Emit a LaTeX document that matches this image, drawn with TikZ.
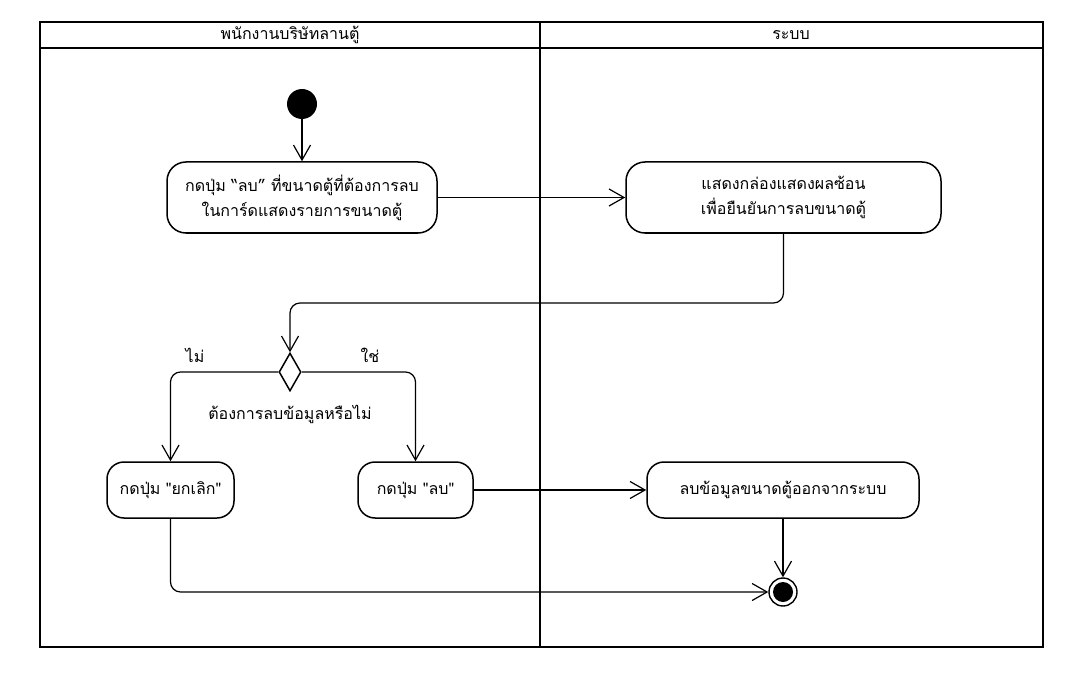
\documentclass[tikz,border=0pt]{standalone}
\usepackage{fontspec}
\newfontfamily\thaifont[Script=Thai]{Loma}
\usetikzlibrary{arrows.meta,shapes.geometric}
\begin{document}
\begin{tikzpicture}[x=1pt,y=-1pt,
  every node/.style={font=\thaifont\fontsize{16}{25}\selectfont, text=black},
  frame/.style={line width=2.8pt},
  action/.style={draw, line width=1.5pt, rounded corners=19pt, align=center, inner sep=0pt},
  flow/.style={line width=1.2pt, rounded corners=10pt, -{Straight Barb[length=15pt,width=17pt,line width=1.2pt]}},
  decision/.style={draw, diamond, line width=1.5pt, inner sep=0pt, minimum width=22pt, minimum height=38pt, fill=white},
  lbl/.style={inner sep=1pt}
]
\useasboundingbox (0,0) rectangle (1076,679);

% swimlanes
\draw[frame] (40,22) rectangle (1043,647);
\draw[frame] (40,48) -- (1043,48);
\draw[frame] (540,22) -- (540,647);
\node[lbl] (laneA) at (290,35) {พนักงานบริษัทลานตู้};
\node[lbl] (laneB) at (791,35) {ระบบ};

% start and end
\node[circle, fill=black, minimum size=30pt, inner sep=0pt] (start) at (302,104) {};
\node[circle, draw, line width=1.4pt, fill=white, minimum size=28pt, inner sep=0pt] (fin) at (783,592) {};
\node[circle, fill=black, minimum size=20pt, inner sep=0pt] (finin) at (783,592) {};

% actions
\node[action, minimum width=270pt, minimum height=71pt] (n1) at (302,197.5)
  {กดปุ่ม “ลบ” ที่ขนาดตู้ที่ต้องการลบ\\ในการ์ดแสดงรายการขนาดตู้};
\node[action, minimum width=315pt, minimum height=71pt] (n2) at (783.5,197.5)
  {แสดงกล่องแสดงผลซ้อน\\เพื่อยืนยันการลบขนาดตู้};
\node[decision] (dec) at (290,372) {};
\node[action, rounded corners=17pt, minimum width=127pt, minimum height=56pt] (n3) at (170.5,490) {กดปุ่ม "ยกเลิก"};
\node[action, rounded corners=17pt, minimum width=115pt, minimum height=56pt] (n4) at (415.5,490) {กดปุ่ม "ลบ"};
\node[action, rounded corners=17pt, minimum width=272pt, minimum height=56pt] (n5) at (783,490) {ลบข้อมูลขนาดตู้ออกจากระบบ};

% guard labels
\node[lbl] (gno) at (195,355) {ไม่};
\node[lbl] (gyes) at (370,355) {ใช่};
\node[lbl] (q) at (290,414) {ต้องการลบข้อมูลหรือไม่};

\coordinate (bend) at (540,303);

% flows
\draw[flow] (start) -- (n1.north);
\draw[flow] (n1.east) -- (n2.west);
\draw[flow] (n2.south) |- (bend) -| (dec.north);
\draw[flow] (dec.west) -| (n3.north);
\draw[flow] (dec.east) -| (n4.north);
\draw[flow] (n4.east) -- (n5.west);
\draw[flow] (n5.south) -- (fin.north);
\draw[flow] (n3.south) |- (fin.west);
\end{tikzpicture}
\end{document}
